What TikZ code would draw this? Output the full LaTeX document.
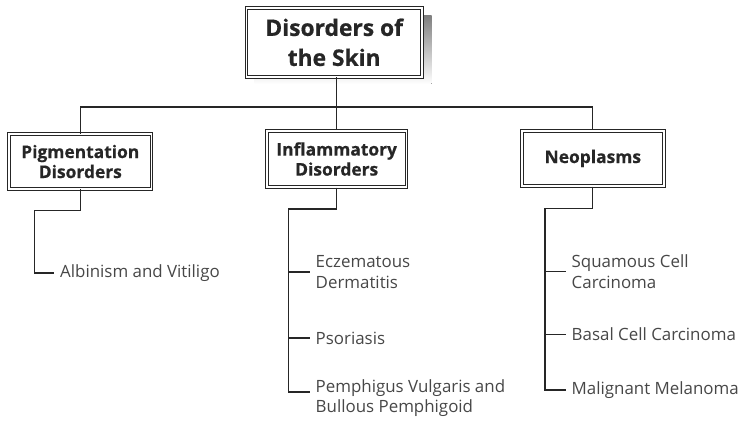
\documentclass[tikz,border=0pt]{standalone}
\usepackage{fontspec}
\setmainfont{Open Sans}
\usetikzlibrary{calc}
\definecolor{ink}{HTML}{262626}
\definecolor{leafink}{HTML}{474747}
\definecolor{shade}{HTML}{CFCFCF}
\begin{document}
\begin{tikzpicture}[x=1pt,y=-1pt,
  conn/.style={draw=ink, line width=1.1pt},
  dbox/.style={draw=ink, double=white, double distance=1.8pt, line width=0.9pt,
    align=center, inner sep=0pt, text=ink},
  rootbox/.style={dbox, minimum width=175.4pt, minimum height=69pt,
    font=\fontsize{22.8}{30}\selectfont\bfseries\addfontfeature{FakeBold=0.6}},
  groupbox/.style={dbox, minimum width=142pt, minimum height=55pt,
    font=\fontsize{17.4}{20}\selectfont\bfseries\addfontfeature{FakeBold=0.6}},
  leaf/.style={anchor=west, align=left, inner ysep=0pt, inner xsep=6pt,
    text=leafink, font=\fontsize{16.9}{20.6}\selectfont}
]
\useasboundingbox (0,0) rectangle (743,425);

% grey shadow behind the title box
\fill[shade] (254.7,16) rectangle (431.7,84);
\node[rootbox, fill=white] (root) at (334.2,42.3) {Disorders of\\the Skin};

% the three groups
\node[groupbox, minimum width=142.4pt, minimum height=54.8pt] (pig) at (80.3,161.5) {Pigmentation\\Disorders};
\node[groupbox, minimum width=139.7pt, minimum height=56.4pt] (inf) at (336.7,159) {Inflammatory\\Disorders};
\node[groupbox, minimum width=142.1pt, minimum height=55.4pt] (neo) at (592.8,158.5) {Neoplasms};

% title to groups
\coordinate (bar) at (0,107);
\draw[conn] (inf.north |- root.south) -- (inf.north);
\draw[conn] (pig.north) -- (pig.north |- bar) -- (neo.north |- bar) -- (neo.north);

% pigmentation disorders
\coordinate (pigTurn) at (34.3,210.5);
\node[leaf] (alb) at (54,273) {Albinism and Vitiligo};
\draw[conn] (pig.south) |- (pigTurn) |- (alb.west);

% inflammatory disorders
\coordinate (infTurn) at (288.3,209);
\node[leaf] (ecz) at (309.5,272) {Eczematous\\Dermatitis};
\node[leaf] (pso) at (309.5,338) {Psoriasis};
\coordinate (pemTip) at (309.5,392);
\node[leaf, anchor=north west] (pem) at ($(pemTip)+(0,-13)$) {Pemphigus Vulgaris and\\Bullous Pemphigoid};
\draw[conn] (inf.south) |- (infTurn) |- (pemTip);
\draw[conn] (infTurn |- ecz.west) -- (ecz.west);
\draw[conn] (infTurn |- pso.west) -- (pso.west);

% neoplasms
\coordinate (neoTurn) at (545,208.3);
\node[leaf] (squ) at (565.5,271.7) {Squamous Cell\\Carcinoma};
\node[leaf] (bas) at (565.5,334.3) {Basal Cell Carcinoma};
\node[leaf] (mal) at (565.5,390) {Malignant Melanoma};
\draw[conn] (neo.south) |- (neoTurn) |- (mal.west);
\draw[conn] (neoTurn |- squ.west) -- (squ.west);
\draw[conn] (neoTurn |- bas.west) -- (bas.west);
\end{tikzpicture}
\end{document}
